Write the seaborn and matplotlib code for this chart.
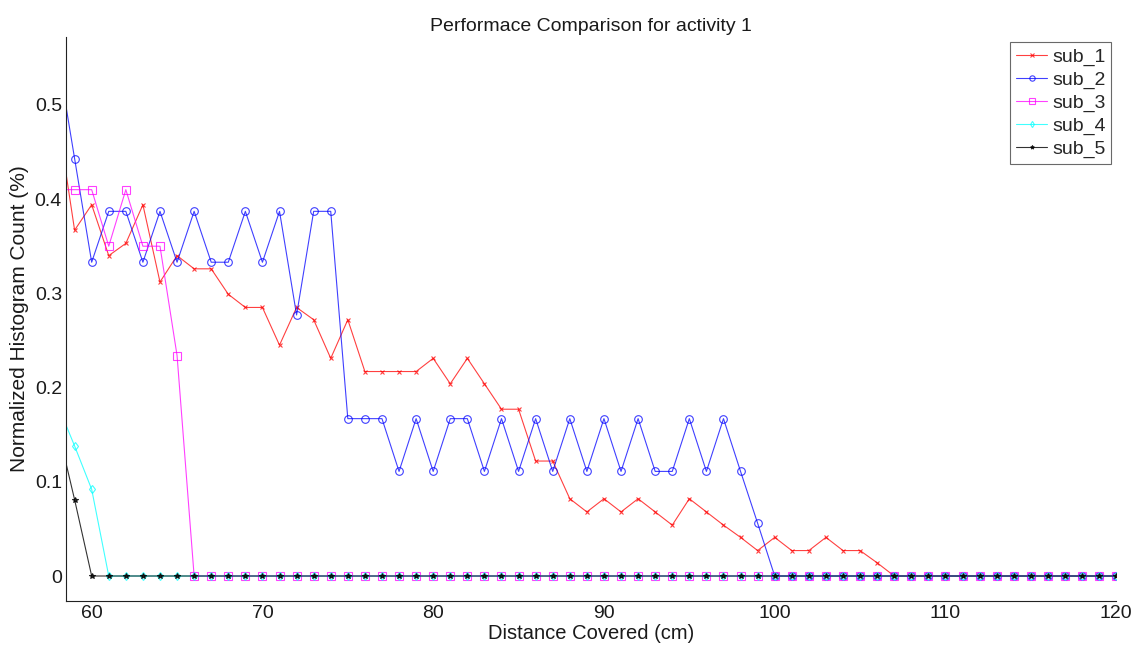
import numpy as np
import pandas as pd
import matplotlib
matplotlib.use("Agg")
import matplotlib.pyplot as plt
import seaborn as sns

x_start = 58
x_end = 120

sub_1_vals = [0.487, 0.367, 0.394, 0.340, 0.353, 0.394, 0.312, 0.340, 0.326, 0.326,
              0.299, 0.285, 0.285, 0.245, 0.285, 0.272, 0.231, 0.272, 0.217, 0.217,
              0.217, 0.217, 0.231, 0.204, 0.231, 0.204, 0.177, 0.177, 0.122, 0.122,
              0.082, 0.068, 0.082, 0.068, 0.082, 0.068, 0.054, 0.082, 0.068, 0.054,
              0.041, 0.027, 0.041, 0.027, 0.027, 0.041, 0.027, 0.027, 0.014, 0.0]
sub_2_vals = [0.553, 0.443, 0.333, 0.387, 0.387, 0.333, 0.387, 0.333, 0.387, 0.333,
              0.333, 0.387, 0.333, 0.387, 0.277, 0.387, 0.387, 0.167, 0.167, 0.167,
              0.111, 0.167, 0.111, 0.167, 0.167, 0.111, 0.167, 0.111, 0.167, 0.111,
              0.167, 0.111, 0.167, 0.111, 0.167, 0.111, 0.111, 0.167, 0.111, 0.167,
              0.111, 0.056, 0.0]
sub_3_vals = [0.410, 0.410, 0.410, 0.350, 0.410, 0.350, 0.350, 0.234, 0.0]
sub_4_vals = [0.182, 0.138, 0.092, 0.0]
sub_5_vals = [0.158, 0.081, 0.0]

names = ["sub_1", "sub_2", "sub_3", "sub_4", "sub_5"]
series = [sub_1_vals, sub_2_vals, sub_3_vals, sub_4_vals, sub_5_vals]
colors = ["#ff0000", "#0000ff", "#ff00ff", "#00ffff", "#000000"]
markers = ["x", "o", "s", "d", "*"]
msizes = [3.5, 5.5, 5.5, 4.5, 4]

xs = np.arange(x_start, x_end + 1)
frames = []
for n, vals in zip(names, series):
    full = list(vals) + [0.0] * (len(xs) - len(vals))
    frames.append(pd.DataFrame({"x": xs, "y": full, "sub": n}))
df = pd.concat(frames, ignore_index=True)

sns.set_style("white")
plt.rcParams["font.family"] = ["Liberation Sans", "DejaVu Sans"]

fig = plt.figure(figsize=(11.39, 6.46), dpi=100)
ax = fig.add_axes([0.058, 0.0697, 0.922, 0.873])

for n, c, m, ms in zip(names, colors, markers, msizes):
    d = df[df["sub"] == n]
    sns.lineplot(data=d, x="x", y="y", ax=ax, color=c, marker=m, markersize=ms,
                 markerfacecolor="none" if m in ("o", "s", "d") else c,
                 markeredgecolor=c, markeredgewidth=0.8, linewidth=0.8,
                 label=n, alpha=0.75 if n != "sub_5" else 0.8)

ax.set_xlim(58.5, 120)
ax.set_ylim(-0.0265, 0.572)
ax.set_xticks([60, 70, 80, 90, 100, 110, 120])
ax.set_yticks([0, 0.1, 0.2, 0.3, 0.4, 0.5])
ax.set_yticklabels(["0", "0.1", "0.2", "0.3", "0.4", "0.5"])
ax.tick_params(direction="in", length=6, labelsize=14, width=0.8, color="#333333",
               pad=3, labelcolor="#1a1a1a")
for s in ["top", "right"]:
    ax.spines[s].set_visible(False)
for s in ["left", "bottom"]:
    ax.spines[s].set_color("#222222")
    ax.spines[s].set_linewidth(0.8)

ax.set_title("Performace Comparison for activity 1", fontsize=14, pad=4, color="#1a1a1a")
ax.set_xlabel("Distance Covered (cm)", fontsize=14.5, labelpad=1, color="#1a1a1a")
ax.set_ylabel("Normalized Histogram Count (%)", fontsize=15, labelpad=4, color="#1a1a1a")

leg = ax.legend(loc="upper right", fontsize=14, frameon=True, fancybox=False,
                edgecolor="#444444", handlelength=1.6, borderpad=0.3,
                labelspacing=0.28, handletextpad=0.25, borderaxespad=0.25,
                markerscale=0.7)
leg.get_frame().set_linewidth(0.8)

fig.savefig("out.png", dpi=100)
